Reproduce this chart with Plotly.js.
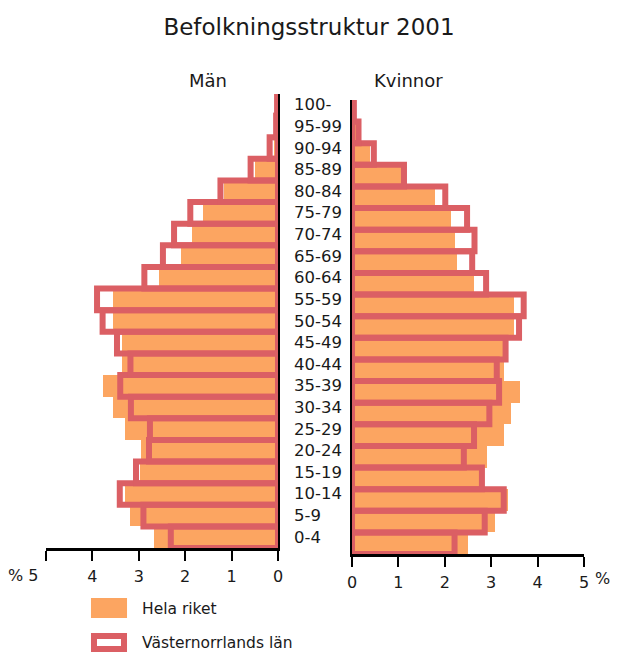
<!DOCTYPE html>
<html>
<head>
<meta charset="utf-8">
<script src="https://cdn.plot.ly/plotly-3.0.1.min.js"></script>
<style>
  body { margin: 0; background: #fff; }
  #chart { width: 618px; height: 654px; }
</style>
</head>
<body>
<div id="chart"></div>
<script>
// age groups, bottom to top
const ages = ['0-4', '5-9', '10-14', '15-19', '20-24', '25-29', '30-34', '35-39', '40-44', '45-49',
  '50-54', '55-59', '60-64', '65-69', '70-74', '75-79', '80-84', '85-89', '90-94', '95-99', '100-'];

// share of population, %
const menRiket = [2.67, 3.19, 3.30, 2.98, 2.96, 3.30, 3.55, 3.78, 3.37, 3.37,
  3.55, 3.55, 2.56, 2.08, 1.85, 1.61, 1.16, 0.50, 0.09, 0.03, 0.01];
const menVnl = [2.31, 2.90, 3.41, 3.06, 2.78, 2.76, 3.17, 3.40, 3.18, 3.47,
  3.78, 3.90, 2.88, 2.48, 2.24, 1.89, 1.24, 0.59, 0.18, 0.04, 0.02];
const womenRiket = [2.49, 3.09, 3.37, 2.75, 2.91, 3.27, 3.43, 3.61, 3.27, 3.27,
  3.50, 3.50, 2.62, 2.26, 2.22, 2.14, 1.79, 1.09, 0.39, 0.10, 0.02];
const womenVnl = [2.21, 2.86, 3.27, 2.80, 2.41, 2.63, 2.96, 3.17, 3.12, 3.31,
  3.60, 3.70, 2.89, 2.59, 2.64, 2.48, 2.01, 1.12, 0.47, 0.14, 0.04];

const tickVals = [0, 1, 2, 3, 4, 5];
const tickText = ['0', '1', '2', '3', '4', '5'];

const orange = '#fca561';
const red = '#db5f64';
const font = 'DejaVu Sans, sans-serif';
const ink = '#1a1a1a';

function riketBar(x, xa, ya) {
  return {
    type: 'bar', orientation: 'h', x: x, y: ages, xaxis: xa, yaxis: ya,
    name: 'Hela riket', marker: { color: orange, line: { width: 0 } },
    cliponaxis: false, hoverinfo: 'x+y'
  };
}
function vnlBar(x, xa, ya) {
  return {
    type: 'bar', orientation: 'h', x: x, y: ages, xaxis: xa, yaxis: ya,
    name: 'Västernorrlands län', marker: { color: 'rgba(0,0,0,0)', line: { color: red, width: 6 } },
    cliponaxis: false, hoverinfo: 'x+y'
  };
}

const data = [
  riketBar(menRiket, 'x', 'y'),
  riketBar(womenRiket, 'x2', 'y2'),
  vnlBar(menVnl, 'x', 'y'),
  vnlBar(womenVnl, 'x2', 'y2')
];

const xBase = {
  showgrid: false, zeroline: false, fixedrange: true,
  showline: true, linecolor: '#000', linewidth: 2.5,
  ticks: 'outside', ticklen: 10, tickwidth: 2, tickcolor: '#000',
  tickvals: tickVals, tickfont: { family: font, size: 16, color: ink },
  ticklabelstandoff: 2
};
const xOver = {
  showgrid: false, zeroline: false, fixedrange: true, showline: false,
  ticks: 'inside', ticklen: 10, tickwidth: 2, tickcolor: '#000',
  tickvals: tickVals, showticklabels: false
};
const yBase = {
  type: 'category', categoryorder: 'array', categoryarray: ages,
  range: [-0.5, ages.length - 0.5], showgrid: false, zeroline: false,
  showticklabels: false, ticks: '', fixedrange: true,
  showline: true, linecolor: '#000', linewidth: 2.5
};

const leftDom = [0, 0.4312];
const rightDom = [0.5688, 1];

function note(text, xref, yref, x, y, xanchor, size, extra) {
  return Object.assign({
    text: text, xref: xref, yref: yref, x: x, y: y, xanchor: xanchor, yanchor: 'middle',
    showarrow: false, font: { family: font, size: size, color: ink }
  }, extra || {});
}

const annotations = ages.map(a => note(a, 'paper', 'y', 0.4572, a, 'left', 16.5));
annotations.push(
  note('Män', 'paper', 'paper', 0.3011, 1.0304, 'center', 18),
  note('Kvinnor', 'paper', 'paper', 0.6747, 1.0304, 'center', 18),
  note('% 5', 'x', 'paper', 5, -0.0478, 'right', 16, { xshift: -6 }),
  note('%', 'x2', 'paper', 5, -0.0543, 'left', 16, { xshift: 9 }),
  note('Hela riket', 'paper', 'paper', 0.1747, -0.1196, 'left', 15.5),
  note('Västernorrlands län', 'paper', 'paper', 0.1747, -0.1935, 'left', 15.5)
);

const layout = {
  width: 618, height: 654,
  margin: { l: 46, r: 34, t: 94, b: 100 },
  paper_bgcolor: '#fff', plot_bgcolor: 'rgba(0,0,0,0)',
  showlegend: false,
  barmode: 'overlay', bargap: 0,
  title: {
    text: 'Befolkningsstruktur 2001', x: 0.5, xanchor: 'center', y: 0.959, yanchor: 'middle',
    font: { family: font, size: 23, color: ink }
  },
  xaxis: Object.assign({}, xBase, { domain: leftDom, anchor: 'y', range: [5, 0],
    ticktext: ['0', '1', '2', '3', '4', ''] }),
  xaxis2: Object.assign({}, xBase, { domain: rightDom, anchor: 'y2', range: [0, 5], ticktext: tickText }),
  xaxis3: Object.assign({}, xOver, { domain: leftDom, anchor: 'y', overlaying: 'x', range: [5, 0] }),
  xaxis4: Object.assign({}, xOver, { domain: rightDom, anchor: 'y2', overlaying: 'x2', range: [0, 5] }),
  yaxis: Object.assign({}, yBase, { domain: [0.013, 1], anchor: 'x', side: 'right' }),
  yaxis2: Object.assign({}, yBase, { domain: [0, 0.987], anchor: 'x2', side: 'left' }),
  annotations: annotations,
  shapes: [
    { type: 'rect', xref: 'paper', yref: 'paper', x0: 0.0836, x1: 0.1506, y0: -0.0957, y1: -0.1391,
      fillcolor: orange, line: { width: 0 } },
    { type: 'rect', xref: 'paper', yref: 'paper', x0: 0.0892, x1: 0.1450, y0: -0.1783, y1: -0.2065,
      fillcolor: '#fff', line: { color: red, width: 6 } }
  ]
};

Plotly.newPlot('chart', data, layout, { displayModeBar: false, staticPlot: true });
</script>
</body>
</html>
